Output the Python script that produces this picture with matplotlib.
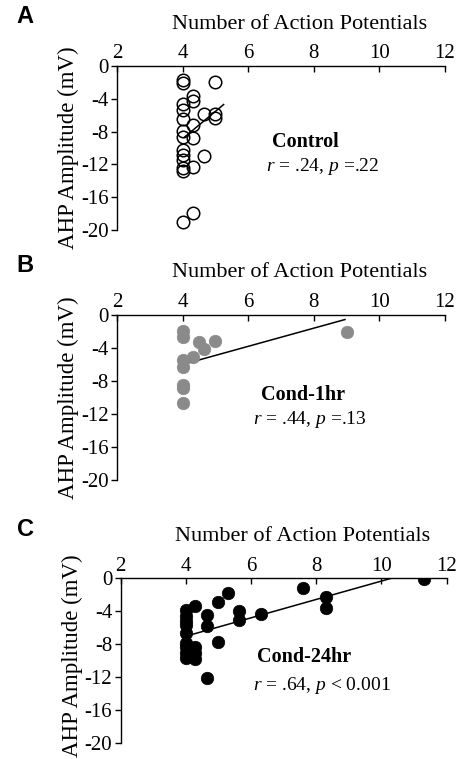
import matplotlib
matplotlib.use("Agg")
import matplotlib.pyplot as plt

plt.rcParams['font.family'] = ['Liberation Serif', 'DejaVu Serif']
plt.rcParams['mathtext.fontset'] = 'custom'
plt.rcParams['mathtext.rm'] = 'Liberation Serif'
plt.rcParams['mathtext.it'] = 'Liberation Serif:italic'
plt.rcParams['mathtext.bf'] = 'Liberation Serif:bold'

# ---------------- data ----------------
ctrl_x = [4.0, 4.0, 5.0, 4.33, 4.33, 4.0, 4.0, 4.0, 4.66, 5.0, 5.0, 4.33,
          4.0, 4.0, 4.33, 4.0, 4.0, 4.66, 4.0, 4.0, 4.0, 4.33, 4.33, 4.0]
ctrl_y = [-1.7, -2.1, -2.0, -3.6, -4.3, -4.6, -5.4, -6.5, -5.9, -5.8, -6.3, -7.2,
          -7.9, -8.6, -8.8, -10.2, -10.9, -11.0, -11.5, -12.4, -12.8, -12.3, -17.9, -19.0]
ctrl_fit_x = [4.05, 5.25]
ctrl_fit_y = [-8.7, -4.7]

c1_x = [4.0, 4.0, 4.0, 4.0, 4.0, 4.0, 4.0, 4.5, 4.65, 5.0, 4.32, 9.0]
c1_y = [-1.9, -2.7, -5.5, -6.3, -8.5, -8.9, -10.7, -3.3, -4.1, -3.2, -5.1, -2.0]
c1_fit_x = [4.0, 8.95]
c1_fit_y = [-6.0, -0.55]

c24_x = [4.0, 4.0, 4.0, 4.0, 4.0, 4.0, 4.0, 4.0, 4.0,
         4.3, 4.3, 4.3, 4.3, 4.65, 4.65, 4.65, 5.0, 5.0, 5.3,
         5.65, 5.65, 6.3, 7.6, 8.3, 8.3, 11.3]
c24_y = [-3.9, -4.6, -5.2, -5.7, -6.6, -7.9, -8.4, -9.1, -9.7,
         -3.4, -8.3, -9.1, -9.8, -4.5, -5.8, -12.1, -2.9, -7.7, -1.8,
         -4.0, -5.1, -4.3, -1.2, -2.3, -3.6, -0.1]
c24_fit_x = [4.0, 10.35]
c24_fit_y = [-7.05, 0.05]

xticks = [2, 4, 6, 8, 10, 12]
yticks = [0, -4, -8, -12, -16, -20]
ytick_labels = ['0', '-4', '-8', '-12', '-16', '-20']

panels = [
    dict(letter='A', x=ctrl_x, y=ctrl_y, fx=ctrl_fit_x, fy=ctrl_fit_y,
         face='none', edge='black', name='Control', stat=('.24', '=.22'),
         name_pos=(7.73, -9.3), stat_pos=(8.28, -12.3), ylab_y=0.5,
         rect=[117/462, 1-230/759, 328/462, 164/759]),
    dict(letter='B', x=c1_x, y=c1_y, fx=c1_fit_x, fy=c1_fit_y,
         face='#8a8a8a', edge='#8a8a8a', name='Cond-1hr', stat=('.44', '=.13'),
         name_pos=(7.67, -9.7), stat_pos=(7.88, -12.7), ylab_y=0.5,
         rect=[117/462, 1-480/759, 328/462, 165/759]),
    dict(letter='C', x=c24_x, y=c24_y, fx=c24_fit_x, fy=c24_fit_y,
         face='black', edge='black', name='Cond-24hr', stat=('.64', '< 0.001'),
         name_pos=(7.62, -9.6), stat_pos=(8.17, -13.0), ylab_y=0.53,
         rect=[120.5/462, 1-742.7/759, 326/462, 164.4/759]),
]

fig = plt.figure(figsize=(4.62, 7.59), dpi=100)

for p in panels:
    ax = fig.add_axes(p['rect'])
    ax.plot(p['fx'], p['fy'], color='black', lw=1.1, zorder=2)
    ax.plot(p['x'], p['y'], linestyle='none', marker='o', markersize=9,
            markerfacecolor=p['face'], markeredgecolor=p['edge'],
            markeredgewidth=1.1 if p['face'] == 'none' else 0.5, zorder=3)
    ax.set_xlim(2, 12)
    ax.set_ylim(-20, 0)
    ax.set_xticks(xticks)
    ax.set_yticks(yticks)
    ax.set_yticklabels(ytick_labels)
    ax.xaxis.tick_top()
    ax.spines['right'].set_visible(False)
    ax.spines['bottom'].set_visible(False)
    for s in ('top', 'left'):
        ax.spines[s].set_linewidth(1.0)
    ax.tick_params(axis='x', direction='in', length=4, width=1, labelsize=15, pad=2)
    ax.tick_params(axis='y', direction='out', length=4, width=1, labelsize=15, pad=2)
    ax.text(0.558, 1.256, 'Number of Action Potentials', fontsize=16,
            transform=ax.transAxes, ha='center', va='center')
    ax.set_ylabel('AHP Amplitude (mV)', fontsize=16.5)
    ax.yaxis.set_label_coords(-0.149, p['ylab_y'])
    ax.yaxis.label.set_va('center')
    ax.patch.set_visible(False)
    r, pv = p['stat']
    ax.text(*p['name_pos'], p['name'], fontsize=14.5, fontweight='bold',
            ha='center', va='center')
    ax.text(*p['stat_pos'], '$r$ = ' + r + ', $p$ ' + pv,
            fontsize=14, ha='center', va='center')

# panel letters
for p in panels:
    top = p['rect'][1] + p['rect'][3]
    fig.text(25/462, top + 49/759, p['letter'], fontsize=17, fontweight='bold',
             family='Liberation Sans', ha='center', va='center')

fig.savefig('out.png', dpi=100)
